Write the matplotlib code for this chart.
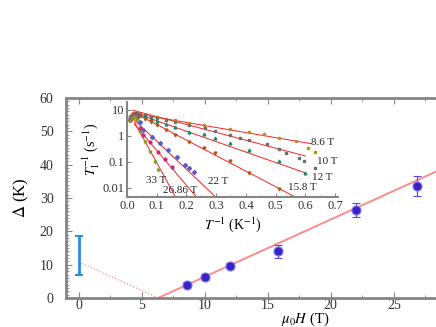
import numpy as np
import matplotlib
matplotlib.use("Agg")
import matplotlib.pyplot as plt
from matplotlib.ticker import MultipleLocator, LogLocator, FixedLocator, NullFormatter

plt.rcParams['font.family'] = ['Liberation Serif', 'DejaVu Serif']
plt.rcParams['mathtext.fontset'] = 'stix'

# main panel: gap vs field
fields = [8.6, 10, 12, 15.8, 22, 26.86]
gaps = [4.0, 6.3, 9.7, 14.0, 26.4, 33.6]
gap_err = [0.8, 0.9, 0.7, 2.0, 2.0, 3.0]
zero_field_gap = 12.75
zero_field_err = 5.75
fit_slope = 1.72
fit_h0 = 6.3

# inset: relaxation rate vs inverse temperature
inset_labels = ['8.6 T', '10 T', '12 T', '15.8 T', '22 T', '26.86 T', '33 T']
inset_colors = ['#c88a1e', '#6e6e6e', '#1f8a6a', '#b0561a', '#5a5ad0', '#c8287a', '#7ea020']
inset_markers = ['s', 's', '^', 'v', 'D', 'o', 'v']
inset_x = [
    [0.01, 0.016, 0.022, 0.028, 0.035, 0.045, 0.06, 0.08, 0.1, 0.13, 0.16, 0.21, 0.26, 0.345, 0.41, 0.46, 0.51, 0.568, 0.608, 0.633],
    [0.01, 0.016, 0.022, 0.028, 0.035, 0.045, 0.06, 0.08, 0.1, 0.13, 0.16, 0.21, 0.263, 0.296, 0.345, 0.38, 0.41, 0.47, 0.512, 0.534, 0.58, 0.597, 0.633],
    [0.01, 0.016, 0.022, 0.028, 0.035, 0.045, 0.06, 0.08, 0.1, 0.13, 0.16, 0.21, 0.26, 0.296, 0.345, 0.41, 0.51, 0.6],
    [0.01, 0.016, 0.022, 0.028, 0.035, 0.045, 0.06, 0.08, 0.1, 0.13, 0.16, 0.21, 0.26, 0.296, 0.345, 0.41, 0.51],
    [0.01, 0.016, 0.022, 0.028, 0.035, 0.045, 0.055, 0.083, 0.111, 0.139, 0.167, 0.195, 0.21, 0.225],
    [0.01, 0.016, 0.022, 0.028, 0.035, 0.045, 0.055, 0.077, 0.105, 0.128, 0.15],
    [0.01, 0.016, 0.022, 0.028, 0.035, 0.044, 0.061, 0.077, 0.094, 0.105],
]
inset_y = [
    [5.6, 6.6, 7.3, 7.5, 7.4, 7.0, 6.5, 5.9, 5.3, 4.6, 4.0, 3.2, 2.6, 1.8, 1.45, 1.2, 0.84, 0.65, 0.35, 0.24],
    [5.2, 6.3, 7.1, 7.4, 7.3, 6.9, 6.2, 5.5, 4.8, 4.0, 3.4, 2.6, 1.95, 1.5, 1.07, 0.84, 0.69, 0.47, 0.31, 0.22, 0.14, 0.11, 0.058],
    [4.9, 6.0, 6.8, 7.1, 6.9, 6.4, 5.6, 4.6, 3.8, 2.9, 2.2, 1.37, 1.14, 0.8, 0.51, 0.28, 0.105, 0.037],
    [4.5, 5.6, 6.4, 6.7, 6.4, 5.7, 4.6, 3.4, 2.5, 1.6, 1.05, 0.59, 0.35, 0.22, 0.105, 0.037, 0.0085],
    [4.2, 5.3, 6.0, 6.2, 5.6, 3.4, 1.7, 0.92, 0.51, 0.28, 0.155, 0.074, 0.058, 0.04],
    [4.0, 5.0, 5.7, 5.8, 4.9, 2.0, 1.07, 0.59, 0.24, 0.13, 0.063],
    [3.8, 4.8, 5.4, 5.3, 3.9, 1.45, 0.59, 0.24, 0.1, 0.047],
]
# exponential fits: prefactor, gap (K), x range of the drawn line
fit_amp = [8.0, 11.0, 9.5, 10.7, 7.5, 6.0, 11.0]
fit_gap = [4.5, 7.0, 9.26, 13.8, 25.0, 31.0, 48.0]
fit_xstart = [0.02, 0.02, 0.02, 0.02, 0.025, 0.025, 0.025]
fit_xend = [0.62, 0.6, 0.6, 0.57, 0.30, 0.236, 0.165]
label_pos = [(0.62, 0.54), (0.64, 0.10), (0.624, 0.025), (0.54, 0.0098),
             (0.274, 0.0177), (0.12, 0.0074), (0.063, 0.0194)]

spine_gray = '#858585'

fig = plt.figure(figsize=(4.36, 3.27), dpi=100)
ax = fig.add_axes([0.1514, 0.0887, 1.096, 0.6116])

h_fit = np.linspace(fit_h0, 40, 50)
ax.plot(h_fit, fit_slope * (h_fit - fit_h0), color='#ff8c8c', lw=1.4, zorder=2)
h_dot = np.linspace(0, fit_h0, 20)
ax.plot(h_dot, fit_slope * (fit_h0 - h_dot), color='#ff8c8c', lw=0.9, ls=':', zorder=2)

ax.errorbar([0], [zero_field_gap], yerr=[zero_field_err], fmt='none', ecolor='#2f8ae6',
            elinewidth=2, capsize=3, capthick=1.5, zorder=3)
ax.errorbar(fields, gaps, yerr=gap_err, fmt='o', color='#3b22c4', ms=6.5,
            mec='#7f78f0', mew=0.8, ecolor='#5a48d8', elinewidth=0.9, capsize=3, zorder=4)

ax.set_xlim(-1, 36.9)
ax.set_ylim(0, 60)
ax.set_xticks([0, 5, 10, 15, 20, 25])
ax.xaxis.set_minor_locator(FixedLocator([2.5, 7.5, 12.5, 17.5, 22.5, 27.5]))
ax.yaxis.set_major_locator(MultipleLocator(10))
ax.yaxis.set_minor_locator(MultipleLocator(1))
ax.tick_params(which='both', direction='in', top=True, right=True, colors='#333333', labelsize=10)
ax.tick_params(which='major', length=4, color=spine_gray)
ax.tick_params(which='minor', length=2, color=spine_gray)
ax.tick_params(axis='y', pad=9)
ax.tick_params(axis='x', pad=1)
for s in ax.spines.values():
    s.set_color(spine_gray)
    s.set_linewidth(2)
ax.set_xlabel(r'$\mu_0H$ (T)', fontsize=10.5, labelpad=-1.5)
ax.set_ylabel(r'$\Delta$ (K)', fontsize=12, labelpad=6)

# inset
ins = fig.add_axes([0.2913, 0.3966, 0.484, 0.2915])
for i in range(len(inset_labels)):
    xs = np.linspace(fit_xstart[i], fit_xend[i], 50)
    ins.plot(xs, fit_amp[i] * np.exp(-fit_gap[i] * xs), color='#ff2020', lw=0.7, zorder=2)
    ins.plot(inset_x[i], inset_y[i], ls='none', marker=inset_markers[i], ms=2,
             color=inset_colors[i], mec=inset_colors[i], zorder=3)
    ins.text(label_pos[i][0], label_pos[i][1], inset_labels[i], fontsize=8,
             va='center', ha='left', color='#222222')

ins.set_yscale('log')
ins.set_xlim(0, 0.71)
ins.set_ylim(0.0042, 20)
ins.xaxis.set_minor_locator(MultipleLocator(0.05))
ins.yaxis.set_major_locator(FixedLocator([0.01, 0.1, 1, 10]))
ins.yaxis.set_minor_locator(LogLocator(base=10, subs=np.arange(2, 10)))
ins.yaxis.set_minor_formatter(NullFormatter())
ins.set_yticklabels(['0.01', '0.1', '1', '10'])
ins.set_xticks(np.arange(0, 0.71, 0.1))
ins.set_xticklabels(['%.1f' % v for v in np.arange(0, 0.71, 0.1)])
ins.tick_params(which='both', direction='in', labelsize=9, colors='#333333', pad=2)
ins.tick_params(which='major', length=3, color=spine_gray)
ins.tick_params(which='minor', length=1.5, color=spine_gray)
ins.spines['top'].set_visible(False)
ins.spines['right'].set_visible(False)
for s in ['left', 'bottom']:
    ins.spines[s].set_color(spine_gray)
    ins.spines[s].set_linewidth(1.5)
ins.set_xlabel(r'$T^{-1}$ (K$^{-1}$)', fontsize=10, labelpad=2)
ins.set_ylabel(r'$T_1^{-1}$ (s$^{-1}$)', fontsize=10, labelpad=1)
ins.patch.set_alpha(0)

fig.savefig('out.png', dpi=100)
